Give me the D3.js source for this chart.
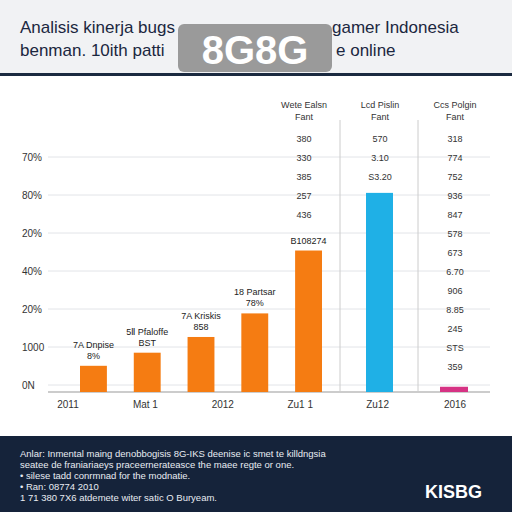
<!DOCTYPE html>
<html><head><meta charset="utf-8">
<script src="https://cdn.jsdelivr.net/npm/d3@7"></script>
<style>body{margin:0;background:#fff;font-family:"Liberation Sans",Arial,sans-serif}</style>
</head><body>
<svg id="c" width="512" height="512"></svg>
<script>
var tickLabels = ["0N", "1000", "20%", "40%", "20%", "80%", "70%"];
var barCats = ["a", "b", "c", "d", "e"];
var barVals = [10, 15, 21, 30, 54];
var barLabels = [["7A Dnpise", "8%"], ["5Ⅱ Pfaloffe", "BST"], ["7A Kriskis", "858"], ["18 Partsar", "78%"], ["B108274", ""]];
var blueVal = 76, pinkVal = 2;
var xLabels = ["2011", "Mat 1", "2012", "Zu1 1", "Zu12", "2016"];
var colHeads = [["Wete Ealsn", "Fant"], ["Lcd Pislin", "Fant"], ["Ccs Polgin", "Fant"]];
var col1 = ["380", "330", "385", "257", "436"];
var col2 = ["570", "3.10", "S3.20"];
var col3 = ["318", "774", "752", "936", "847", "578", "673", "6.70", "906", "8.85", "245", "STS", "359"];

var svg = d3.select("#c");
// header
svg.append("rect").attr("width", 512).attr("height", 75).attr("fill", "#f1f2f4");
svg.append("rect").attr("y", 73).attr("width", 512).attr("height", 3).attr("fill", "#1b2a40");
[["Analisis kinerja bugs", 20, 33], ["gamer Indonesia", 332, 33], ["benman. 10ith patti", 20, 56], ["e online", 336, 56]]
  .forEach(function (t) {
    svg.append("text").attr("x", t[1]).attr("y", t[2]).attr("font-size", 17).attr("fill", "#1b2740").text(t[0]);
  });
svg.append("rect").attr("x", 178).attr("y", 24).attr("width", 154).attr("height", 48).attr("rx", 6).attr("fill", "#9a9a9a");
svg.append("text").attr("x", 255).attr("y", 64).attr("text-anchor", "middle").attr("font-size", 40)
  .attr("font-weight", "bold").attr("fill", "#fff").text("8G8G");

var y = d3.scaleLinear().domain([0, 6]).range([385, 157]);
var yv = d3.scaleLinear().domain([0, 100]).range([392, 130]);
var g = svg.append("g");
tickLabels.forEach(function (t, i) {
  g.append("line").attr("x1", 48).attr("x2", 490).attr("y1", y(i)).attr("y2", y(i)).attr("stroke", "#e2e4e8");
  g.append("text").attr("x", 22).attr("y", y(i) + 4).attr("font-size", 10).attr("fill", "#333").text(t);
});
g.append("line").attr("x1", 48).attr("x2", 490).attr("y1", 392).attr("y2", 392).attr("stroke", "#999");
[340, 418].forEach(function (x) {
  g.append("line").attr("x1", x).attr("x2", x).attr("y1", 120).attr("y2", 392).attr("stroke", "#ccc");
});

var xb = d3.scaleBand().domain(barCats).range([80, 322]).paddingInner(0.5);
barVals.forEach(function (v, i) {
  var c = barCats[i];
  g.append("rect").attr("x", xb(c)).attr("y", yv(v)).attr("width", xb.bandwidth()).attr("height", 392 - yv(v)).attr("fill", "#f57c12");
  barLabels[i].forEach(function (l, j) {
    g.append("text").attr("x", xb(c) + xb.bandwidth() / 2).attr("y", yv(v) - 18 + j * 11 + (l && barLabels[i][1] ? 0 : 11))
      .attr("text-anchor", "middle").attr("font-size", 9).attr("fill", "#222").text(l);
  });
});
g.append("rect").attr("x", 366).attr("y", yv(blueVal)).attr("width", 27).attr("height", 392 - yv(blueVal)).attr("fill", "#1fb0e6");
g.append("rect").attr("x", 440).attr("y", yv(pinkVal)).attr("width", 28).attr("height", 392 - yv(pinkVal)).attr("fill", "#d63384");

var xl = d3.scalePoint().domain(xLabels).range([68, 455]);
xLabels.forEach(function (t) {
  g.append("text").attr("x", xl(t)).attr("y", 408).attr("text-anchor", "middle").attr("font-size", 10).attr("fill", "#333").text(t);
});

var colX = [304, 380, 455];
colHeads.forEach(function (h, i) {
  h.forEach(function (l, j) {
    g.append("text").attr("x", colX[i]).attr("y", 108 + j * 12).attr("text-anchor", "middle").attr("font-size", 9).attr("fill", "#333").text(l);
  });
});
var rowY = d3.scaleLinear().domain([0, 1]).range([142, 161]);
[col1, col2, col3].forEach(function (col, i) {
  col.forEach(function (t, j) {
    g.append("text").attr("x", colX[i]).attr("y", rowY(j))
      .attr("text-anchor", "middle").attr("font-size", 9).attr("fill", "#333").text(t);
  });
});

// footer
svg.append("rect").attr("y", 436).attr("width", 512).attr("height", 76).attr("fill", "#15233a");
var foot = ["Anlar: Inmental maing denobbogisis 8G-IKS deenise ic smet te killdngsia",
  "seatee de franiariaeys praceernerateasce the maee regte or one.",
  "• silese tadd conrmnad for the modnatie.",
  "• Ran:  08774 2010",
  "1 71 380 7X6 atdemete witer satic O Buryeam."];
foot.forEach(function (t, i) {
  svg.append("text").attr("x", 20).attr("y", 457 + i * 11).attr("font-size", 9.5).attr("fill", "#e8ecf2").text(t);
});
svg.append("text").attr("x", 425).attr("y", 498).attr("font-size", 18).attr("font-weight", "bold").attr("fill", "#fff").text("KISBG");
</script>
</body></html>
